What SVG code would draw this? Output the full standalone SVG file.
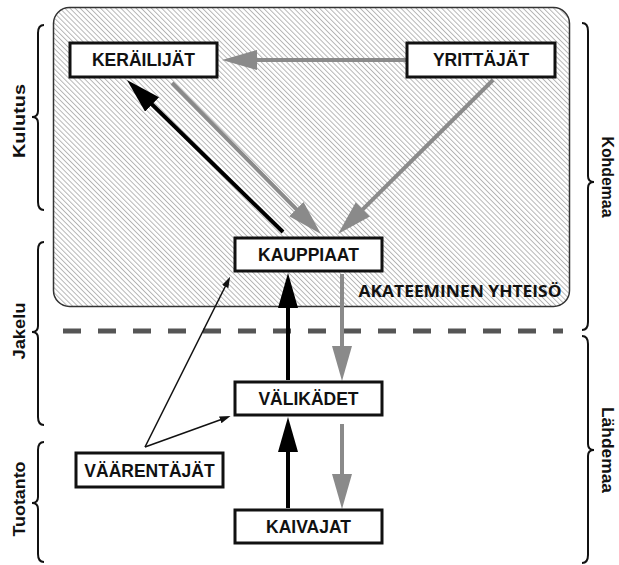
<svg xmlns="http://www.w3.org/2000/svg" width="619" height="565" viewBox="0 0 619 565">
<style>
.box{fill:#fff;stroke:#111;stroke-width:3}
.lbl{font-family:"Liberation Sans",Arial,sans-serif;font-weight:bold;font-size:17.5px;text-anchor:middle;fill:#111}
.side{font-family:"Liberation Sans",Arial,sans-serif;font-weight:bold;font-size:17px;text-anchor:middle;fill:#111}
.brace{fill:none;stroke:#111;stroke-width:2}
.g{stroke:#8a8a8a;stroke-width:4;fill:none}
.b{stroke:#000;stroke-width:4;fill:none}
.t{stroke:#111;stroke-width:1.5;fill:none}
</style>
<defs>
<pattern id="hatch" patternUnits="userSpaceOnUse" width="3.6" height="10" patternTransform="rotate(-45)">
<rect width="3.6" height="10" fill="#fff"/>
<line x1="0.5" y1="0" x2="0.5" y2="10" stroke="#a0a0a0" stroke-width="0.8"/>
</pattern>
<marker id="hg" markerUnits="userSpaceOnUse" markerWidth="36" markerHeight="22" refX="15" refY="10" orient="auto">
<path d="M0,0 L35,10 L0,20 z" fill="#8a8a8a"/>
</marker>
<marker id="hb" markerUnits="userSpaceOnUse" markerWidth="36" markerHeight="22" refX="15" refY="10" orient="auto">
<path d="M0,0 L35,10 L0,20 z" fill="#000"/>
</marker>
<marker id="ht" markerUnits="userSpaceOnUse" markerWidth="12" markerHeight="8" refX="4" refY="3.5" orient="auto">
<path d="M0,0 L11,3.5 L0,7 z" fill="#111"/>
</marker>
</defs>
<rect x="0" y="0" width="619" height="565" fill="#fff"/>
<g id="community">
<rect x="53.5" y="7.5" width="516" height="299" rx="16" fill="url(#hatch)" stroke="#333" stroke-width="1.5"/>
<text x="460" y="297" font-family="'Open Sans','Noto Sans',sans-serif" font-weight="bold" font-size="16" text-anchor="middle" textLength="203" lengthAdjust="spacingAndGlyphs" fill="#111">AKATEEMINEN YHTEISÖ</text>
</g>
<line x1="63" y1="331" x2="563" y2="331" stroke="#555" stroke-width="5" stroke-dasharray="18 17"/>
<g id="braces">
<path class="brace" d="M44 25 Q38 25 38 33 L38 111 Q38 117 32 117 Q38 117 38 123 L38 202 Q38 210 44 210"/>
<path class="brace" d="M44 242 Q38 242 38 250 L38 326 Q38 332 32 332 Q38 332 38 338 L38 417 Q38 425 44 425"/>
<path class="brace" d="M44 442 Q38 442 38 450 L38 497 Q38 503 32 503 Q38 503 38 509 L38 554 Q38 562 44 562"/>
<path class="brace" d="M582 23 Q588 23 588 31 L588 176 Q588 182 594 182 Q588 182 588 188 L588 322 Q588 330 582 330"/>
<path class="brace" d="M582 336 Q588 336 588 344 L588 444 Q588 450 594 450 Q588 450 588 456 L588 555 Q588 563 582 563"/>
</g>
<g id="labels">
<text class="side" transform="translate(25,121) rotate(-90)" textLength="74" lengthAdjust="spacingAndGlyphs">Kulutus</text>
<text class="side" transform="translate(25,331) rotate(-90)" textLength="57" lengthAdjust="spacingAndGlyphs">Jakelu</text>
<text class="side" transform="translate(25,499) rotate(-90)" textLength="75" lengthAdjust="spacingAndGlyphs">Tuotanto</text>
<text class="side" transform="translate(602,177) rotate(90)" textLength="81" lengthAdjust="spacingAndGlyphs">Kohdemaa</text>
<text class="side" transform="translate(602,450) rotate(90)" textLength="86" lengthAdjust="spacingAndGlyphs">Lähdemaa</text>
</g>
<g id="connectors">
<line class="g" x1="407" y1="60" x2="242" y2="60" marker-end="url(#hg)"/>
<line class="b" x1="283" y1="232" x2="141.3" y2="94" marker-end="url(#hb)"/>
<line class="g" x1="172" y1="83" x2="306.9" y2="219.8" marker-end="url(#hg)"/>
<line class="g" x1="493" y1="80" x2="352.2" y2="219.9" marker-end="url(#hg)"/>
<line class="b" x1="288" y1="380" x2="288" y2="293" marker-end="url(#hb)"/>
<line class="b" x1="288" y1="508" x2="288" y2="437" marker-end="url(#hb)"/>
<line class="g" x1="342" y1="274" x2="342" y2="361" marker-end="url(#hg)"/>
<line class="g" x1="342" y1="424" x2="342" y2="489" marker-end="url(#hg)"/>
<line class="t" x1="145" y1="447" x2="227" y2="283" marker-end="url(#ht)"/>
<line class="t" x1="145" y1="447" x2="224" y2="418.5" marker-end="url(#ht)"/>
</g>
<g id="keraili"><rect class="box" x="70" y="43" width="147" height="34"/><text class="lbl" x="143.5" y="66">KERÄILIJÄT</text></g>
<g id="yrittajat"><rect class="box" x="407" y="43" width="148" height="34"/><text class="lbl" x="481" y="66">YRITTÄJÄT</text></g>
<g id="kauppiaat"><rect class="box" x="235" y="238" width="147" height="33"/><text class="lbl" x="308.5" y="261">KAUPPIAAT</text></g>
<g id="valikadet"><rect class="box" x="235" y="382" width="147" height="33"/><text class="lbl" x="308.5" y="405">VÄLIKÄDET</text></g>
<g id="kaivajat"><rect class="box" x="235" y="510" width="147" height="33"/><text class="lbl" x="308.5" y="533">KAIVAJAT</text></g>
<g id="vaarentajat"><rect class="box" x="76" y="453" width="147" height="34"/><text class="lbl" x="149.5" y="477">VÄÄRENTÄJÄT</text></g>
</svg>
